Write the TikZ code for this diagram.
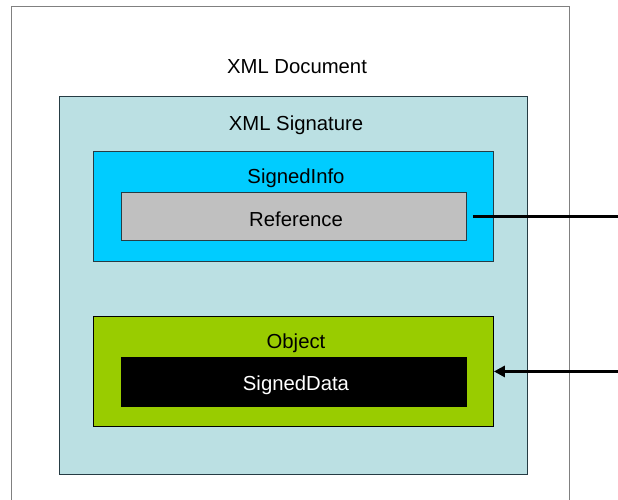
\documentclass[tikz,border=0pt]{standalone}
\usepackage{fontspec}
\setmainfont{Liberation Sans}
\usetikzlibrary{arrows.meta}
\definecolor{docline}{HTML}{808080}
\definecolor{sigfill}{HTML}{BBE0E3}
\definecolor{infofill}{HTML}{00CCFF}
\definecolor{reffill}{HTML}{C0C0C0}
\definecolor{objfill}{HTML}{99CC00}
\definecolor{boxline}{HTML}{263C44}
\tikzset{
  panel/.style={draw=boxline, line width=0.9pt, inner sep=0pt, anchor=north west},
  caption/.style={font=\fontsize{20.3}{23}\selectfont, anchor=base, inner sep=0pt},
  link/.style={line width=3.8pt, black}
}
\begin{document}
\begin{tikzpicture}[x=1pt,y=-1pt]
  \clip (0,0) rectangle (618,500);
  \fill[white] (0,0) rectangle (618,500);
  % outer document frame (runs past the lower edge)
  \node[panel, draw=docline, line width=1.4pt, fill=white,
        minimum width=558pt, minimum height=520pt] (doc) at (11,6) {};
  \node[caption] (doclbl) at (297,74) {XML Document};
  % signature element
  \node[panel, fill=sigfill, minimum width=468pt, minimum height=378pt] (sig) at (59,96) {};
  \node[caption] (siglbl) at (296,131) {XML Signature};
  % SignedInfo with its Reference
  \node[panel, fill=infofill, minimum width=400pt, minimum height=110pt] (info) at (93,151) {};
  \node[caption] (infolbl) at (296,183) {SignedInfo};
  \node[panel, fill=reffill, minimum width=345pt, minimum height=48pt] (ref) at (121,192) {};
  \node[caption] (reflbl) at (296,226) {Reference};
  % Object holding the signed data
  \node[panel, draw=black, fill=objfill, minimum width=400pt, minimum height=110pt] (obj) at (93,316) {};
  \node[caption] (objlbl) at (296,348) {Object};
  \node[panel, draw=black, fill=black, minimum width=345pt, minimum height=49pt] (data) at (121,357) {};
  \node[caption, text=white] (datalbl) at (296,390) {SignedData};
  % external connectors
  \coordinate (refout) at (630,216);
  \coordinate (objin) at (630,371);
  \draw[link, shorten <=6pt] (ref.east) -- (refout |- ref.east);
  \draw[link, -{Triangle[length=11pt,width=11pt]}] (objin |- obj.east) -- (obj.east);
\end{tikzpicture}
\end{document}
